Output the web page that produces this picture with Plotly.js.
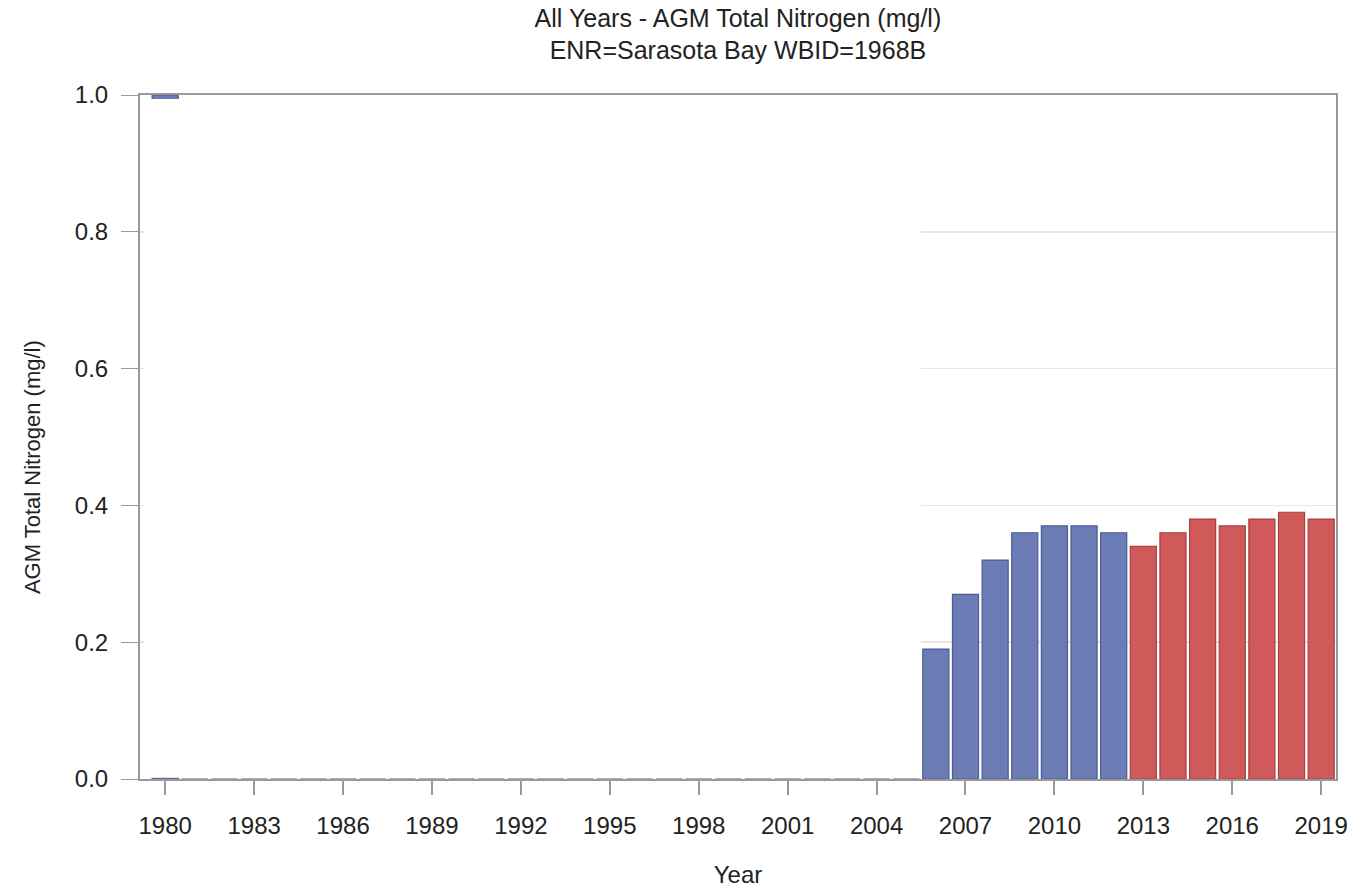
<!DOCTYPE html>
<html>
<head>
<meta charset="utf-8">
<script src="https://cdn.plot.ly/plotly-3.0.1.min.js"></script>
<style>html,body{margin:0;padding:0;background:#fff;}#chart{width:1354px;height:888px;}</style>
</head>
<body>
<div id="chart"></div>
<script>
// Data
const yearsBlue = [1980,1981,1982,1983,1984,1985,1986,1987,1988,1989,1990,1991,1992,1993,1994,1995,1996,1997,1998,1999,2000,2001,2002,2003,2004,2005,2006,2007,2008,2009,2010,2011,2012];
const valuesBlue = [1.0,0,0,0,0,0,0,0,0,0,0,0,0,0,0,0,0,0,0,0,0,0,0,0,0,0,0.19,0.27,0.32,0.36,0.37,0.37,0.36];
const yearsRed = [2013,2014,2015,2016,2017,2018,2019];
const valuesRed = [0.34,0.36,0.38,0.37,0.38,0.39,0.38];
const xTickVals = [1980,1983,1986,1989,1992,1995,1998,2001,2004,2007,2010,2013,2016,2019];
const yTickVals = [0,0.2,0.4,0.6,0.8,1.0];

const fam = 'Liberation Sans, Arial, sans-serif';
const txt = '#222';

const traces = [
  {type: 'bar', x: yearsBlue, y: valuesBlue, width: 0.88,
   marker: {color: '#6c7cb4', line: {color: '#4c5a96', width: 1.2}}, hoverinfo: 'x+y'},
  {type: 'bar', x: yearsRed, y: valuesRed, width: 0.88,
   marker: {color: '#d05a5a', line: {color: '#a84040', width: 1.2}}, hoverinfo: 'x+y'}
];

const layout = {
  width: 1354, height: 888,
  margin: {l: 140, r: 18, t: 95, b: 109},
  paper_bgcolor: '#fff', plot_bgcolor: '#fff',
  showlegend: false,
  barmode: 'overlay',
  font: {family: fam, color: txt, size: 18},
  title: {text: 'All Years - AGM Total Nitrogen (mg/l)<br>ENR=Sarasota Bay WBID=1968B',
          x: 0.545, xanchor: 'center', yref: 'container', y: 0.97, yanchor: 'middle',
          font: {family: fam, size: 25, color: txt}},
  xaxis: {
    range: [1979.15, 2019.5], tickmode: 'array', tickvals: xTickVals,
    ticktext: xTickVals.map(String),
    ticks: 'outside', ticklen: 14, tickwidth: 2, tickcolor: '#999',
    ticklabelstandoff: 10,
    showline: true, linecolor: '#999', linewidth: 2, mirror: true,
    showgrid: false, zeroline: false,
    tickfont: {family: fam, size: 24, color: txt},
    title: {text: 'Year', standoff: 28, font: {family: fam, size: 24, color: txt}}
  },
  yaxis: {
    range: [0, 1.0], tickmode: 'array', tickvals: yTickVals,
    ticktext: yTickVals.map(v => v.toFixed(1)),
    ticks: 'outside', ticklen: 17, tickwidth: 1, tickcolor: '#999',
    ticklabelstandoff: 8,
    showline: true, linecolor: '#999', linewidth: 2, mirror: true,
    showgrid: true, gridcolor: '#e6e6e6', gridwidth: 1.5, zeroline: false,
    tickfont: {family: fam, size: 24, color: txt}
  },
  annotations: [
    {text: 'AGM Total Nitrogen (mg/l)', xref: 'paper', yref: 'paper', x: -0.0903, y: 0.456,
     xanchor: 'center', yanchor: 'middle', textangle: -90, showarrow: false,
     font: {family: fam, size: 22, color: txt}}
  ],
  shapes: [
    {type: 'rect', xref: 'x', yref: 'y', x0: 1979.3, x1: 2005.5, y0: 0.002, y1: 0.994,
     fillcolor: '#ffffff', line: {width: 0}, layer: 'above'}
  ]
};

Plotly.newPlot('chart', traces, layout, {displayModeBar: false, staticPlot: true});
</script>
</body>
</html>
